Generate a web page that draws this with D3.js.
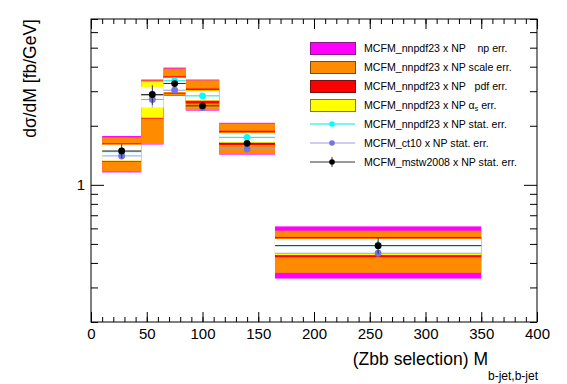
<!DOCTYPE html>
<html>
<head>
<meta charset="utf-8">
<script src="https://cdn.jsdelivr.net/npm/d3@7"></script>
<style>
  body { margin: 0; background: #fff; }
  svg { display: block; font-family: "Liberation Sans", Arial, sans-serif; }
  text { white-space: pre; }
</style>
</head>
<body>
<svg id="chart" width="567" height="384"></svg>
<script>
// bin edges in M(b-jet,b-jet)
const binEdges = [10, 45, 65, 85, 115, 165, 350];

// error bands [low, high] per bin
const npErr    = [[1.157, 1.773], [1.605, 3.44], [2.841, 3.958], [2.388, 3.44], [1.425, 2.071], [0.333, 0.614]];
const scaleErr = [[1.168, 1.746], [1.615, 3.41], [2.864, 3.912], [2.403, 3.41], [1.437, 2.052], [0.356, 0.584]];
const pdfErr   = [[1.313, 1.628], [2.176, 3.39], [2.914, 3.575], [2.598, 3.097], [1.596, 1.886], [0.4276, 0.5425]];
const asErr    = [[1.326, 1.604], [2.196, 3.37], [2.955, 3.522], [2.685, 3.035], [1.634, 1.847], [0.4386, 0.532]];
const innerGap = [[1.330, 1.600], [2.48, 3.155], [2.972, 3.50], [2.701, 2.983], [1.653, 1.825], [0.4448, 0.530]];

// central values with stat. errors
const nnpdfVals = [1.476, 2.86, 3.39, 2.841, 1.746, 0.49];
const nnpdfErrs = [0.08, 0.15, 0.06, 0.05, 0.04, 0.03];
const ct10Vals  = [1.404, 2.723, 3.035, 2.474, 1.523, 0.448];
const ct10Errs  = [0.06, 0.25, 0.06, 0.04, 0.03, 0.01];
const mstwVals  = [1.488, 2.887, 3.283, 2.527, 1.628, 0.49];
const mstwErrs  = [0.12, 0.33, 0.08, 0.05, 0.04, 0.045];

const xMajor = [0, 50, 100, 150, 200, 250, 300, 350, 400];
const xMinor = d3.range(0, 401, 10);
const yMajor = [1];
const yMinor = [0.2, 0.3, 0.4, 0.5, 0.6, 0.7, 0.8, 0.9, 2, 3, 4, 5, 6, 7];

const margin = { top: 19, right: 30, bottom: 62, left: 91 };
const width = 567, height = 384;
const innerWidth = width - margin.left - margin.right;
const innerHeight = height - margin.top - margin.bottom;

const svg = d3.select("#chart");
const g = svg.append("g").attr("transform", `translate(${margin.left},${margin.top})`);

const x = d3.scaleLinear().domain([0, 400]).range([0, innerWidth]);
const y = d3.scaleLog().domain([0.2, 7]).range([innerHeight, 0]);

const bins = binEdges.slice(0, -1).map((lo, i) => ({ lo, hi: binEdges[i + 1], mid: (lo + binEdges[i + 1]) / 2 }));

// Bands, drawn outer to inner
const bands = [
    { vals: npErr, fill: "#ff00ff" },
    { vals: scaleErr, fill: "#ff8c00" },
    { vals: pdfErr, fill: "#ff0000" },
    { vals: asErr, fill: "#ffff00" },
    { vals: innerGap, fill: "#ffffff" }
];
bands.forEach(b => {
    g.append("g").selectAll("rect")
        .data(bins)
        .enter()
        .append("rect")
        .attr("x", d => x(d.lo))
        .attr("width", d => x(d.hi) - x(d.lo))
        .attr("y", (d, i) => y(b.vals[i][1]))
        .attr("height", (d, i) => y(b.vals[i][0]) - y(b.vals[i][1]))
        .attr("fill", b.fill);
});

// Points with stat. errors (x error = bin width)
const series = [
    { vals: nnpdfVals, errs: nnpdfErrs, color: "#00ffff", line: "#00e5e5" },
    { vals: ct10Vals, errs: ct10Errs, color: "#7373e6", line: "#9a9aee" },
    { vals: mstwVals, errs: mstwErrs, color: "#000000", line: "#333333" }
];
series.forEach(s => {
    const sg = g.append("g");
    sg.selectAll("line.h")
        .data(bins)
        .enter()
        .append("line")
        .attr("x1", d => x(d.lo))
        .attr("x2", d => x(d.hi))
        .attr("y1", (d, i) => y(s.vals[i]))
        .attr("y2", (d, i) => y(s.vals[i]))
        .attr("stroke", s.line)
        .attr("stroke-width", 1);
    sg.selectAll("line.v")
        .data(bins)
        .enter()
        .append("line")
        .attr("x1", d => x(d.mid))
        .attr("x2", d => x(d.mid))
        .attr("y1", (d, i) => y(s.vals[i] + s.errs[i]))
        .attr("y2", (d, i) => y(s.vals[i] - s.errs[i]))
        .attr("stroke", s.line)
        .attr("stroke-width", 1);
    sg.selectAll("circle")
        .data(bins)
        .enter()
        .append("circle")
        .attr("cx", d => x(d.mid))
        .attr("cy", (d, i) => y(s.vals[i]))
        .attr("r", 3.4)
        .attr("fill", s.color);
});

// Axes (ticks inside the frame, mirrored on top/right)
function styleAxis(sel) {
    sel.select(".domain").remove();
    sel.selectAll("line").attr("stroke", "#000");
}
function ticksOnly(sel) {
    styleAxis(sel);
    sel.selectAll("text").remove();
}
g.append("g").attr("transform", `translate(0,${innerHeight})`)
    .call(d3.axisBottom(x).tickValues(xMinor).tickSizeInner(-5).tickSizeOuter(0))
    .call(ticksOnly);
g.append("g").attr("transform", `translate(0,${innerHeight})`)
    .call(d3.axisBottom(x).tickValues(xMajor).tickSizeInner(-10).tickSizeOuter(0).tickPadding(6))
    .call(styleAxis)
    .selectAll("text").attr("font-size", 15).attr("fill", "#000").attr("font-family", "Liberation Sans, Arial, sans-serif");
g.append("g")
    .call(d3.axisTop(x).tickValues(xMinor).tickSizeInner(-5).tickSizeOuter(0))
    .call(ticksOnly);
g.append("g")
    .call(d3.axisTop(x).tickValues(xMajor).tickSizeInner(-10).tickSizeOuter(0))
    .call(ticksOnly);

g.append("g")
    .call(d3.axisLeft(y).tickValues(yMinor).tickSizeInner(-7).tickSizeOuter(0))
    .call(ticksOnly);
g.append("g")
    .call(d3.axisLeft(y).tickValues(yMajor).tickSizeInner(-13).tickSizeOuter(0).tickPadding(6).tickFormat(d3.format("d")))
    .call(styleAxis)
    .selectAll("text").attr("font-size", 15).attr("fill", "#000").attr("font-family", "Liberation Sans, Arial, sans-serif");
g.append("g").attr("transform", `translate(${innerWidth},0)`)
    .call(d3.axisRight(y).tickValues(yMinor).tickSizeInner(-7).tickSizeOuter(0))
    .call(ticksOnly);
g.append("g").attr("transform", `translate(${innerWidth},0)`)
    .call(d3.axisRight(y).tickValues(yMajor).tickSizeInner(-13).tickSizeOuter(0))
    .call(ticksOnly);

// Frame
g.append("rect")
    .attr("x", 0).attr("y", 0)
    .attr("width", innerWidth).attr("height", innerHeight)
    .attr("fill", "none").attr("stroke", "#000").attr("stroke-width", 1);

// Axis titles
const xt = svg.append("text")
    .attr("x", margin.left + innerWidth + 1)
    .attr("y", 365)
    .attr("text-anchor", "end")
    .attr("font-size", 17.5)
    .attr("fill", "#000");
xt.append("tspan").text("(Zbb selection) M");
xt.append("tspan").attr("dy", 15).attr("font-size", 12).text("b-jet,b-jet");

svg.append("text")
    .attr("transform", "rotate(-90)")
    .attr("x", -19)
    .attr("y", 36)
    .attr("text-anchor", "end")
    .attr("font-size", 17.5)
    .attr("fill", "#000")
    .text("dσ/dM [fb/GeV]");

// Legend
const legendBoxes = [
    { fill: "#ff00ff", stroke: "#8a1a88", label: "MCFM_nnpdf23 x NP    np err." },
    { fill: "#ff8c00", stroke: "#7a4a10", label: "MCFM_nnpdf23 x NP scale err." },
    { fill: "#ff0000", stroke: "#7a1010", label: "MCFM_nnpdf23 x NP   pdf err." },
    { fill: "#ffff00", stroke: "#7a7a20", label: null }
];
const legendLines = [
    { color: "#00ffff", line: "#00e5e5", label: "MCFM_nnpdf23 x NP stat. err.", bar: false },
    { color: "#7373e6", line: "#9a9aee", label: "MCFM_ct10 x NP stat. err.", bar: false },
    { color: "#000000", line: "#333333", label: "MCFM_mstw2008 x NP stat. err.", bar: true }
];
const lx = 310, lw = 45, tx = 364, row0 = 48, rowH = 19;
const leg = svg.append("g").attr("font-size", 10.6).attr("fill", "#000");
legendBoxes.forEach((b, i) => {
    const cy = row0 + i * rowH;
    leg.append("rect")
        .attr("x", lx + 0.5).attr("y", cy - 6 + 0.5)
        .attr("width", lw).attr("height", 12)
        .attr("fill", b.fill).attr("stroke", b.stroke).attr("stroke-width", 1);
    const t = leg.append("text").attr("x", tx).attr("y", cy + 3.8);
    if (b.label) {
        t.text(b.label);
    } else {
        t.append("tspan").text("MCFM_nnpdf23 x NP α");
        t.append("tspan").attr("font-size", 7).attr("dy", 2).text("s");
        t.append("tspan").attr("dy", -2).text(" err.");
    }
});
legendLines.forEach((l, j) => {
    const cy = row0 + (legendBoxes.length + j) * rowH;
    leg.append("line")
        .attr("x1", lx).attr("x2", lx + lw)
        .attr("y1", cy).attr("y2", cy)
        .attr("stroke", l.line).attr("stroke-width", 1);
    if (l.bar) {
        leg.append("line")
            .attr("x1", lx + 22).attr("x2", lx + 22)
            .attr("y1", cy - 5).attr("y2", cy + 5)
            .attr("stroke", l.line).attr("stroke-width", 1);
    }
    leg.append("circle")
        .attr("cx", lx + 22).attr("cy", cy).attr("r", 2.8)
        .attr("fill", l.color);
    leg.append("text").attr("x", tx).attr("y", cy + 3.8).text(l.label);
});
</script>
</body>
</html>
